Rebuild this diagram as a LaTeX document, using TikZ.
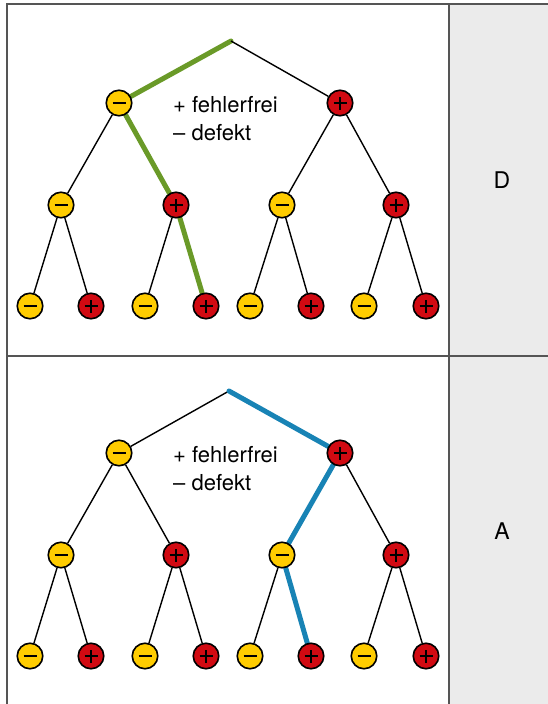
\documentclass[tikz,border=0pt]{standalone}
\usepackage{fontspec}
\setmainfont{TeX Gyre Heros}
\definecolor{myyellow}{HTML}{FFCC00}
\definecolor{myred}{HTML}{D10A12}
\definecolor{mygreen}{HTML}{6A9A28}
\definecolor{myblue}{HTML}{1883B5}
\definecolor{mygrey}{HTML}{EBEBEB}
\definecolor{myframe}{HTML}{555555}
\pgfdeclarelayer{bg}
\pgfsetlayers{bg,main}
\tikzset{
  ballbase/.style={circle, draw=black, line width=1.6pt, minimum size=25.5pt, inner sep=0pt},
  plusball/.style={ballbase, fill=myred, path picture={\draw[line width=1.1pt]
     ([xshift=-6.5pt]path picture bounding box.center) -- ++(13pt,0)
     ([yshift=-6.5pt]path picture bounding box.center) -- ++(0,13pt);}},
  minusball/.style={ballbase, fill=myyellow, path picture={\draw[line width=1.1pt]
     ([xshift=-6.5pt]path picture bounding box.center) -- ++(13pt,0);}},
  edgeline/.style={line width=1.4pt, black},
  hlgreen/.style={line width=5pt, mygreen, line cap=round},
  hlblue/.style={line width=5pt, myblue, line cap=round},
  frameline/.style={line width=2pt, myframe},
  lbltext/.style={font=\fontsize{22}{26}\selectfont, inner sep=0pt, anchor=base west},
  sidetext/.style={font=\fontsize{23}{27}\selectfont, inner sep=0pt},
}
\newcommand{\mytree}[2]{%
  \coordinate (#1r) at (231,#2+41);
  \node[minusball] (#1a) at (119,#2+103) {};
  \node[plusball] (#1b) at (340,#2+103) {};
  \node[minusball] (#1aa) at (61,#2+205) {};
  \node[plusball] (#1ab) at (176,#2+205) {};
  \node[minusball] (#1ba) at (282,#2+205) {};
  \node[plusball] (#1bb) at (396,#2+205) {};
  \node[minusball] (#1aaa) at (30,#2+306) {};
  \node[plusball] (#1aab) at (91,#2+306) {};
  \node[minusball] (#1aba) at (145,#2+306) {};
  \node[plusball] (#1abb) at (206,#2+306) {};
  \node[minusball] (#1baa) at (250,#2+306) {};
  \node[plusball] (#1bab) at (311,#2+306) {};
  \node[minusball] (#1bba) at (364,#2+306) {};
  \node[plusball] (#1bbb) at (426,#2+306) {};
  \node[lbltext] (#1t1) at (173,#2+112) {+ fehlerfrei};
  \node[lbltext] (#1t2) at (173,#2+140) {– defekt};
}
\begin{document}
\begin{tikzpicture}[x=1pt,y=-1pt]
\useasboundingbox (0,0) rectangle (548,704);
\node[sidetext] (D) at (502,180) {D};
\node[sidetext] (A) at (502,531) {A};

\mytree{p}{0}
\mytree{q}{350}
\coordinate (qr) at (229,391);

\begin{pgfonlayer}{bg}
  \fill[white] (0,0) rectangle (548,704);
  \fill[mygrey] (449,4) rectangle (548,704);
  \draw[frameline] (7,704) -- (7,4) -- (548,4);
  \draw[frameline] (7,356) -- (548,356);
  \draw[frameline] (449,4) -- (449,704);
  % top tree
  \draw[hlgreen] (pr) -- (pa);
  \draw[edgeline] (pr) -- (pb);
  \draw[edgeline] (pa) -- (paa);
  \draw[hlgreen] (pa) -- (pab);
  \draw[edgeline] (pb) -- (pba);
  \draw[edgeline] (pb) -- (pbb);
  \draw[edgeline] (paa) -- (paaa);
  \draw[edgeline] (paa) -- (paab);
  \draw[edgeline] (pab) -- (paba);
  \draw[hlgreen] (pab) -- (pabb);
  \draw[edgeline] (pba) -- (pbaa);
  \draw[edgeline] (pba) -- (pbab);
  \draw[edgeline] (pbb) -- (pbba);
  \draw[edgeline] (pbb) -- (pbbb);
  % bottom tree
  \draw[edgeline] (qr) -- (qa);
  \draw[hlblue] (qr) -- (qb);
  \draw[edgeline] (qa) -- (qaa);
  \draw[edgeline] (qa) -- (qab);
  \draw[hlblue] (qb) -- (qba);
  \draw[edgeline] (qb) -- (qbb);
  \draw[edgeline] (qaa) -- (qaaa);
  \draw[edgeline] (qaa) -- (qaab);
  \draw[edgeline] (qab) -- (qaba);
  \draw[edgeline] (qab) -- (qabb);
  \draw[edgeline] (qba) -- (qbaa);
  \draw[hlblue] (qba) -- (qbab);
  \draw[edgeline] (qbb) -- (qbba);
  \draw[edgeline] (qbb) -- (qbbb);
\end{pgfonlayer}
\end{tikzpicture}
\end{document}
